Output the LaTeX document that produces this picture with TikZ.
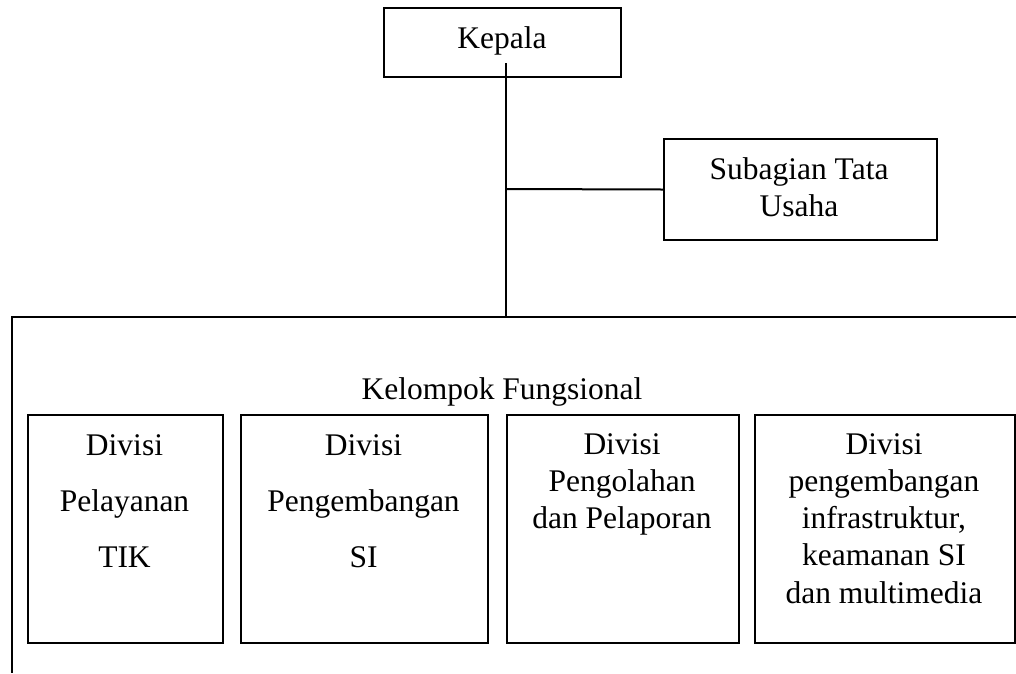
\documentclass[tikz,border=0pt]{standalone}
\usepackage{fontspec}
\setmainfont{Liberation Serif}
\begin{document}
\begin{tikzpicture}[x=1pt,y=-1pt,
  box/.style={draw, line width=2pt, inner sep=0pt, anchor=north west},
  txt/.style={anchor=base, inner sep=0pt, font=\fontsize{31.5}{37.3}\selectfont},
  wide/.style={anchor=base, inner sep=0pt, font=\fontsize{31.5}{56}\selectfont},
  link/.style={draw, line width=2pt}]
\useasboundingbox (0,0) rectangle (1016,673);

% boxes
\node[box, minimum width=237pt, minimum height=69pt] (kepala) at (383,7) {};
\node[box, minimum width=273pt, minimum height=101pt] (sub) at (663,138) {};
\node[box, minimum width=195pt, minimum height=228pt] (d1) at (27,414) {};
\node[box, minimum width=247pt, minimum height=228pt] (d2) at (240,414) {};
\node[box, minimum width=232pt, minimum height=228pt] (d3) at (506,414) {};
\node[box, minimum width=260pt, minimum height=228pt] (d4) at (754,414) {};

% texts
\node[txt] (tkepala) at (502,48) {Kepala};
\node[txt] (tsub) at (799,179) {\begin{tabular}[t]{@{}c@{}}Subagian Tata\\Usaha\end{tabular}};
\node[txt] (tkf) at (502,399) {Kelompok Fungsional};
\node[wide] (t1) at (124.5,455) {\begin{tabular}[t]{@{}c@{}}Divisi\\Pelayanan\\TIK\end{tabular}};
\node[wide] (t2) at (363.5,455) {\begin{tabular}[t]{@{}c@{}}Divisi\\Pengembangan\\SI\end{tabular}};
\node[txt] (t3) at (622,454) {\begin{tabular}[t]{@{}c@{}}Divisi\\Pengolahan\\dan Pelaporan\end{tabular}};
\node[txt] (t4) at (884,454) {\begin{tabular}[t]{@{}c@{}}Divisi\\pengembangan\\infrastruktur,\\keamanan SI\\dan multimedia\end{tabular}};

% connectors
\coordinate (kstart) at (506,63);
\coordinate (branch) at (506,189);
\coordinate (ftop) at (506,317);
\coordinate (fl) at (12,317);
\coordinate (fr) at (1016,317);
\coordinate (fb) at (12,673);
\draw[link] (kstart) -- (ftop);
\draw[link] (branch) -- (sub.west);
\draw[link] (fr) -- (fl) -- (fb);
\end{tikzpicture}
\end{document}
